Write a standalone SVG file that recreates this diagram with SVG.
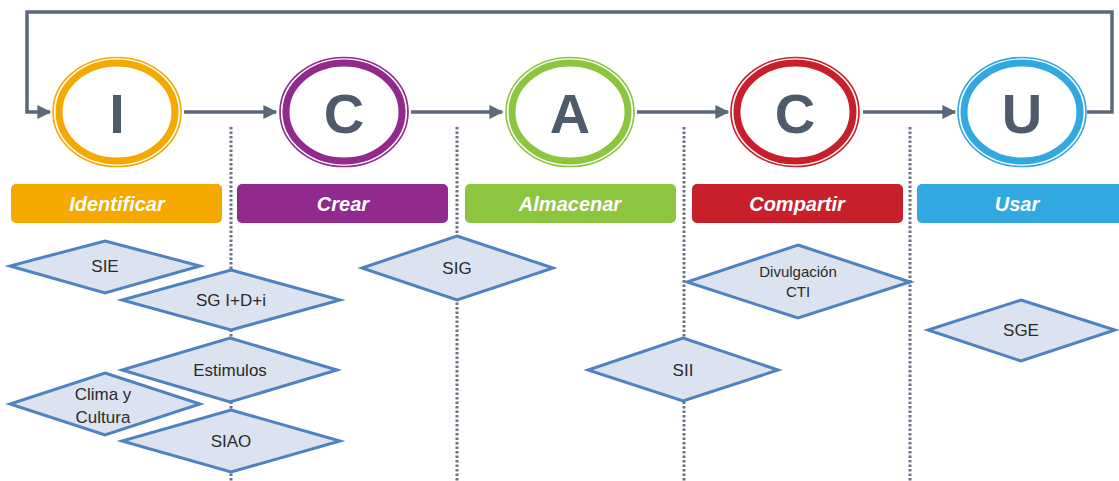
<svg xmlns="http://www.w3.org/2000/svg" width="1119" height="481" viewBox="0 0 1119 481">
<style>
.conn{fill:none;stroke:#5a6878;stroke-width:3.5}
.dot{fill:none;stroke:#6b7584;stroke-width:3;stroke-dasharray:2.5 2}
.ring{fill:#fff;stroke-width:7}
.outer{fill:none;stroke-width:1.6}
.letter{font-family:"Liberation Sans",Arial,sans-serif;font-weight:bold;font-size:56px;fill:#4e5b6b;text-anchor:middle}
.bar text{font-family:"Liberation Sans",Arial,sans-serif;font-weight:bold;font-style:italic;font-size:20px;fill:#fff;text-anchor:middle}
.dia polygon{fill:#dce3f0;stroke:#4f82c0;stroke-width:3;stroke-linejoin:miter}
.dia text{font-family:"Liberation Sans",Arial,sans-serif;font-size:17px;fill:#2a2a2a;text-anchor:middle}
</style>
<defs>
<marker id="ah" viewBox="0 0 10 10" refX="9" refY="5" markerWidth="4" markerHeight="4" orient="auto" markerUnits="strokeWidth">
<path d="M0,0 L10,5 L0,10 z" fill="#5a6878"/>
</marker>
</defs>
<rect width="1119" height="481" fill="#fff"/>
<g id="separators">
<line class="dot" x1="231" y1="127" x2="231" y2="481"/>
<line class="dot" x1="457" y1="127" x2="457" y2="481"/>
<line class="dot" x1="684" y1="127" x2="684" y2="481"/>
<line class="dot" x1="910" y1="127" x2="910" y2="481"/>
</g>
<g id="connectors">
<path class="conn" d="M1087,112 H1112 V12 H27 V112 H50" marker-end="url(#ah)"/>
<line class="conn" x1="184" y1="112" x2="276" y2="112" marker-end="url(#ah)"/>
<line class="conn" x1="411" y1="112" x2="502" y2="112" marker-end="url(#ah)"/>
<line class="conn" x1="637" y1="112" x2="728" y2="112" marker-end="url(#ah)"/>
<line class="conn" x1="863" y1="112" x2="955" y2="112" marker-end="url(#ah)"/>
</g>
<g id="node-I">
<ellipse class="ring" cx="117" cy="112" rx="58" ry="49" stroke="#f5a800"/>
<ellipse class="outer" cx="117" cy="112" rx="64" ry="54.5" stroke="#f5a800"/>
<text class="letter" x="117" y="133">I</text>
</g>
<g id="node-C1">
<ellipse class="ring" cx="344" cy="112" rx="58" ry="49" stroke="#922a8e"/>
<ellipse class="outer" cx="344" cy="112" rx="64" ry="54.5" stroke="#922a8e"/>
<text class="letter" x="344" y="133">C</text>
</g>
<g id="node-A">
<ellipse class="ring" cx="570" cy="112" rx="58" ry="49" stroke="#8cc63f"/>
<ellipse class="outer" cx="570" cy="112" rx="64" ry="54.5" stroke="#8cc63f"/>
<text class="letter" x="570" y="133">A</text>
</g>
<g id="node-C2">
<ellipse class="ring" cx="795" cy="112" rx="58" ry="49" stroke="#c8202a"/>
<ellipse class="outer" cx="795" cy="112" rx="64" ry="54.5" stroke="#c8202a"/>
<text class="letter" x="795" y="133">C</text>
</g>
<g id="node-U">
<ellipse class="ring" cx="1022" cy="112" rx="58" ry="49" stroke="#31a9e0"/>
<ellipse class="outer" cx="1022" cy="112" rx="64" ry="54.5" stroke="#31a9e0"/>
<text class="letter" x="1022" y="133">U</text>
</g>
<g id="bar-identificar" class="bar">
<rect x="11" y="184" width="211" height="39" rx="5" fill="#f5a800"/>
<text x="117" y="211">Identificar</text>
</g>
<g id="bar-crear" class="bar">
<rect x="237" y="184" width="211" height="39" rx="5" fill="#922a8e"/>
<text x="343" y="211">Crear</text>
</g>
<g id="bar-almacenar" class="bar">
<rect x="465" y="184" width="211" height="39" rx="5" fill="#8cc63f"/>
<text x="570" y="211">Almacenar</text>
</g>
<g id="bar-compartir" class="bar">
<rect x="692" y="184" width="211" height="39" rx="5" fill="#c8202a"/>
<text x="797" y="211">Compartir</text>
</g>
<g id="bar-usar" class="bar">
<rect x="917" y="184" width="215" height="39" rx="5" fill="#31a9e0"/>
<text x="1017" y="211">Usar</text>
</g>
<g id="d-SIE" class="dia">
<polygon points="105,241 200,266 105,293 10,266"/>
<text x="105" y="272">SIE</text>
</g>
<g id="d-SGIDi" class="dia">
<polygon points="231,270 340,300 231,330 122,300"/>
<text x="231" y="306">SG I+D+i</text>
</g>
<g id="d-Estimulos" class="dia">
<polygon points="230,338 337,370 230,402 122,370"/>
<text x="230" y="376">Estimulos</text>
</g>
<g id="d-Clima" class="dia">
<polygon points="105,373 200,404 105,435 10,404"/>
<text x="103" y="400">Clima y</text>
<text x="103" y="423">Cultura</text>
</g>
<g id="d-SIAO" class="dia">
<polygon points="231,410 340,441 231,472 122,441"/>
<text x="231" y="447">SIAO</text>
</g>
<g id="d-SIG" class="dia">
<polygon points="457,236 553,268 457,300 362,268"/>
<text x="457" y="274">SIG</text>
</g>
<g id="d-Divulgacion" class="dia">
<polygon points="798,245 910,282 798,318 687,282"/>
<text x="798" y="277" style="font-size:15px">Divulgación</text>
<text x="798" y="297" style="font-size:15px">CTI</text>
</g>
<g id="d-SII" class="dia">
<polygon points="683,338 778,370 683,401 588,370"/>
<text x="683" y="376">SII</text>
</g>
<g id="d-SGE" class="dia">
<polygon points="1021,300 1115,330 1021,361 928,330"/>
<text x="1021" y="336">SGE</text>
</g>
</svg>
